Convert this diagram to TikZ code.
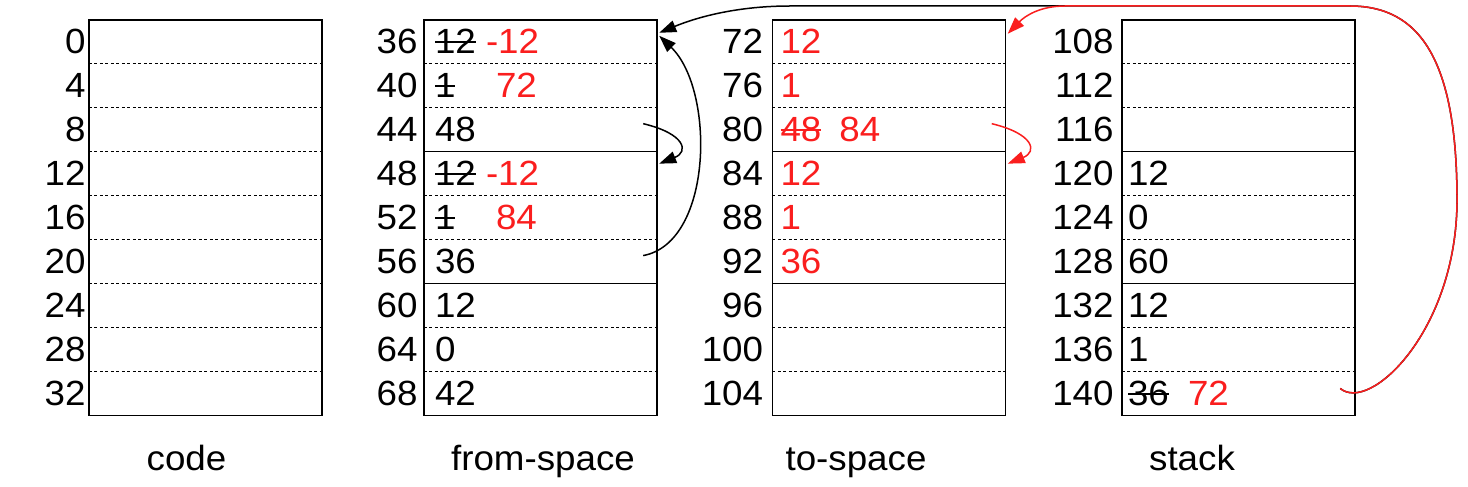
\documentclass[tikz,border=0pt]{standalone}
\usepackage{fontspec}
\setmainfont[FakeStretch=1.05]{Liberation Sans}
\usetikzlibrary{positioning,arrows.meta}
\definecolor{newval}{RGB}{250,30,30}
\newcommand\strk[1]{\setbox0\hbox{#1}\rlap{\rule[0.3em]{\wd0}{0.06em}}\box0}
\newcommand\nv[1]{\textcolor{newval}{#1}}

\begin{document}
\begin{tikzpicture}[x=1bp,y=-1bp,font=\fontsize{35bp}{42bp}\selectfont,
  every label/.style={inner sep=0pt},
  cell/.style={minimum width=233bp,minimum height=43.56bp,inner ysep=0pt,align=left},
  ccell/.style={cell,inner xsep=8bp,text width=217bp},
  fcell/.style={cell,inner xsep=11bp,text width=211bp},
  tcell/.style={cell,inner xsep=8bp,text width=217bp,text=newval},
  scell/.style={cell,inner xsep=6bp,text width=221bp},
  frame/.style={draw,line width=1.5bp},
  sep/.style={draw,line width=1.2bp,dash pattern=on 3bp off 2.5bp},
  ptr/.style={line width=1.5bp,-{Triangle[length=17bp,width=12bp]}},
  title/.style={anchor=base}]
\useasboundingbox (0,0) rectangle (1468,487);

% code
\begin{scope}[label distance=3bp]
\node[ccell,label={left:0}] (c0) at (205.5,41.78) {};
\node[ccell,label={left:4}] (c4) [below=0pt of c0] {};
\node[ccell,label={left:8}] (c8) [below=0pt of c4] {};
\node[ccell,label={left:12}] (c12) [below=0pt of c8] {};
\node[ccell,label={left:16}] (c16) [below=0pt of c12] {};
\node[ccell,label={left:20}] (c20) [below=0pt of c16] {};
\node[ccell,label={left:24}] (c24) [below=0pt of c20] {};
\node[ccell,label={left:28}] (c28) [below=0pt of c24] {};
\node[ccell,label={left:32}] (c32) [below=0pt of c28] {};
\end{scope}

% from-space
\begin{scope}[label distance=6bp]
\node[fcell,label={left:36}] (f36) at (540.5,41.78) {\makebox[51bp][l]{\strk{12}}\nv{-12}};
\node[fcell,label={left:40}] (f40) [below=0pt of f36] {\makebox[61bp][l]{\strk{1}}\nv{72}};
\node[fcell,label={left:44}] (f44) [below=0pt of f40] {48};
\node[fcell,label={left:48}] (f48) [below=0pt of f44] {\makebox[51bp][l]{\strk{12}}\nv{-12}};
\node[fcell,label={left:52}] (f52) [below=0pt of f48] {\makebox[61bp][l]{\strk{1}}\nv{84}};
\node[fcell,label={left:56}] (f56) [below=0pt of f52] {36};
\node[fcell,label={left:60}] (f60) [below=0pt of f56] {12};
\node[fcell,label={left:64}] (f64) [below=0pt of f60] {0};
\node[fcell,label={left:68}] (f68) [below=0pt of f64] {42};
\end{scope}

% to-space
\begin{scope}[label distance=9bp]
\node[tcell,label={left:72}] (t72) at (889,41.78) {12};
\node[tcell,label={left:76}] (t76) [below=0pt of t72] {1};
\node[tcell,label={left:80}] (t80) [below=0pt of t76] {\makebox[59bp][l]{\strk{48}}84};
\node[tcell,label={left:84}] (t84) [below=0pt of t80] {12};
\node[tcell,label={left:88}] (t88) [below=0pt of t84] {1};
\node[tcell,label={left:92}] (t92) [below=0pt of t88] {36};
\node[tcell,label={left:96}] (t96) [below=0pt of t92] {};
\node[tcell,label={left:100}] (t100) [below=0pt of t96] {};
\node[tcell,label={left:104}] (t104) [below=0pt of t100] {};
\end{scope}

% stack
\begin{scope}[label distance=8bp]
\node[scell,label={left:108}] (s108) at (1238.5,41.78) {};
\node[scell,label={left:112}] (s112) [below=0pt of s108] {};
\node[scell,label={left:116}] (s116) [below=0pt of s112] {};
\node[scell,label={left:120}] (s120) [below=0pt of s116] {12};
\node[scell,label={left:124}] (s124) [below=0pt of s120] {0};
\node[scell,label={left:128}] (s128) [below=0pt of s124] {60};
\node[scell,label={left:132}] (s132) [below=0pt of s128] {12};
\node[scell,label={left:136}] (s136) [below=0pt of s132] {1};
\node[scell,label={left:140}] (s140) [below=0pt of s136] {\makebox[60bp][l]{\strk{36}}\nv{72}};
\end{scope}

% frames and row lines
\draw[frame] (c0.north west) rectangle (c32.south east);
\draw[frame] (f36.north west) rectangle (f68.south east);
\draw[frame] (t72.north west) rectangle (t104.south east);
\draw[frame] (s108.north west) rectangle (s140.south east);
\draw[frame] (f44.south west) -- (f44.south east) (f56.south west) -- (f56.south east);
\draw[frame] (t80.south west) -- (t80.south east) (t92.south west) -- (t92.south east);
\draw[frame] (s116.south west) -- (s116.south east) (s128.south west) -- (s128.south east);
\draw[sep] (c0.south west) -- (c0.south east) (c4.south west) -- (c4.south east)
  (c8.south west) -- (c8.south east) (c12.south west) -- (c12.south east)
  (c16.south west) -- (c16.south east) (c20.south west) -- (c20.south east)
  (c24.south west) -- (c24.south east) (c28.south west) -- (c28.south east);
\draw[sep] (f36.south west) -- (f36.south east) (f40.south west) -- (f40.south east)
  (f48.south west) -- (f48.south east) (f52.south west) -- (f52.south east)
  (f60.south west) -- (f60.south east) (f64.south west) -- (f64.south east);
\draw[sep] (t72.south west) -- (t72.south east) (t76.south west) -- (t76.south east)
  (t84.south west) -- (t84.south east) (t88.south west) -- (t88.south east)
  (t96.south west) -- (t96.south east) (t100.south west) -- (t100.south east);
\draw[sep] (s108.south west) -- (s108.south east) (s112.south west) -- (s112.south east)
  (s120.south west) -- (s120.south east) (s124.south west) -- (s124.south east)
  (s132.south west) -- (s132.south east) (s136.south west) -- (s136.south east);

% pointers
\coordinate (p44) at ([xshift=-14bp,yshift=6bp]f44.east);
\coordinate (p56) at ([xshift=-14bp,yshift=6bp]f56.east);
\coordinate (p80) at ([xshift=-14bp,yshift=6bp]t80.east);
\coordinate (p140) at ([xshift=-15bp,yshift=5bp]s140.east);
\coordinate (q36) at ([xshift=2bp,yshift=6bp]f36.east);
\coordinate (q36b) at ([xshift=2bp,yshift=9bp]f36.east);
\coordinate (q48) at ([xshift=2bp,yshift=-12bp]f48.north east);
\coordinate (q72) at ([xshift=2bp,yshift=8bp]t72.east);
\coordinate (q84) at ([xshift=2bp,yshift=-12bp]t84.north east);

\draw[ptr] (p44) .. controls +(42,10) and +(30,-12) .. (q48);
\draw[ptr] (p56) .. controls +(70,-13) and +(56,54) .. (q36);
\draw[ptr] (p140) .. controls +(30,25) and (1457,330) .. (1457,200)
  .. controls (1457,60) and (1420,6) .. (1350,6) -- (790,6)
  .. controls (740,6) and (700,16) .. (q36b);
\draw[ptr,newval] (p140) .. controls +(30,25) and (1457,330) .. (1457,200)
  .. controls (1457,60) and (1420,6) .. (1350,6) -- (1065,6)
  .. controls (1040,6) and (1025,16) .. (q72);
\draw[ptr,newval] (p80) .. controls +(42,10) and +(30,-12) .. (q84);

% titles
\node[title] (lcode) at (186.5,470) {code};
\node[title] (lfrom) at (543,470) {from-space};
\node[title] (lto) at (856,470) {to-space};
\node[title] (lstack) at (1192,470) {stack};
\end{tikzpicture}
\end{document}
